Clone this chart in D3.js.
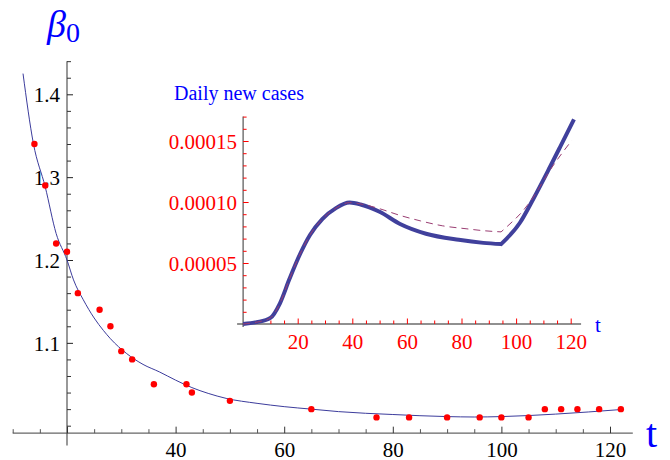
<!DOCTYPE html>
<html>
<head>
<meta charset="utf-8">
<script src="https://cdn.jsdelivr.net/npm/d3@7"></script>
<style>
  html, body { margin: 0; padding: 0; background: #fff; }
  svg { display: block; }
  text { font-family: "Liberation Serif", "Times New Roman", serif; }
</style>
</head>
<body>
<svg id="chart" width="670" height="460"></svg>
<script>
// ---- Main chart data: beta_0 estimates (red points) ----
const pointT = [14, 16, 18, 20, 22, 26, 28, 30, 32, 36, 42, 43, 50, 65, 77, 83, 90, 96, 100, 105, 108, 111, 114, 118, 122];
const pointV = [1.34, 1.29, 1.22, 1.21, 1.16, 1.14, 1.12, 1.09, 1.08, 1.05, 1.05, 1.04, 1.03, 1.02, 1.01, 1.01, 1.01, 1.01, 1.01, 1.01, 1.02, 1.02, 1.02, 1.02, 1.02];

// ---- Main chart fitted curve ----
const fitT = [11.9, 13.8, 16, 18, 20, 21.2, 23, 25, 26.7, 28, 31, 34, 37, 40, 43, 46, 49.3, 55, 60, 65, 70, 80, 90, 95, 100, 110, 122];
const fitV = [1.425, 1.341, 1.288, 1.232, 1.2, 1.176, 1.152, 1.13, 1.115, 1.105, 1.087, 1.074, 1.065, 1.055, 1.046, 1.039, 1.033, 1.027, 1.023, 1.020, 1.017, 1.0135, 1.011, 1.0105, 1.011, 1.014, 1.0195];

// ---- Main axes ticks ----
const mainXMajor = [20, 40, 60, 80, 100, 120];
const mainXLabels = ["", "40", "60", "80", "100", "120"];
const mainYMajor = [1.1, 1.2, 1.3, 1.4];
const mainYLabels = ["1.1", "1.2", "1.3", "1.4"];

// ---- Inset data: daily new cases (two pieces meeting at the kink t≈94.5) ----
const solidT1 = [0, 5, 10, 13.5, 17, 21, 24.5, 29, 34, 39, 43, 50, 57.5, 67, 79, 88, 94.5];
const solidV1 = [0, 0.0000015, 0.000005, 0.000017, 0.000037, 0.000058, 0.000073, 0.000086, 0.000095, 0.0000995, 0.000098, 0.000092, 0.000082, 0.000074, 0.000069, 0.0000665, 0.0000655];
const solidT2 = [94.5, 101.4, 106.3, 112.4, 116.1, 121.2];
const solidV2 = [0.0000655, 0.000083, 0.0001025, 0.0001287, 0.000145, 0.0001677];
const dashT1 = [0, 5, 10, 13.5, 17, 21, 24.5, 29, 34, 39, 45, 50, 57.5, 65, 73, 82, 88, 94.5];
const dashV1 = [0, 0.0000015, 0.000005, 0.000017, 0.000037, 0.000058, 0.000073, 0.000086, 0.000095, 0.0000995, 0.0000975, 0.0000945, 0.000089, 0.0000845, 0.0000805, 0.000078, 0.0000765, 0.0000755];
const dashT2 = [94.5, 97, 102.6, 106.3, 112.4, 120.4];
const dashV2 = [0.0000755, 0.0000805, 0.000093, 0.000104, 0.000126, 0.0001505];

const insetXMajor = [20, 40, 60, 80, 100, 120];
const insetYMajor = [0.00005, 0.00010, 0.00015];
const insetYLabels = ["0.00005", "0.00010", "0.00015"];

const svg = d3.select("#chart");
const FONT = "Liberation Serif, Times New Roman, serif";
const curveCol = "#3c3c9c";

// ================= MAIN CHART =================
const x = d3.scaleLinear().domain([20, 120]).range([67, 610]);
const y = d3.scaleLinear().domain([1.0, 1.4]).range([425.7, 94.3]);
const xOrigin = 20, yOrigin = 0.991;

const main = svg.append("g");
main.append("line").attr("x1", x(10)).attr("x2", x(124.2)).attr("y1", y(yOrigin)).attr("y2", y(yOrigin))
  .attr("stroke", "#666").attr("stroke-width", 1.3);
main.append("line").attr("x1", x(xOrigin)).attr("x2", x(xOrigin)).attr("y1", y(0.976)).attr("y2", y(1.44))
  .attr("stroke", "#444").attr("stroke-width", 1.1);

function styleAxis(g, col, fontSize, textCol) {
  g.select(".domain").remove();
  g.selectAll(".tick line").attr("stroke", col).attr("stroke-width", 1);
  g.selectAll(".tick text").attr("font-family", FONT).attr("font-size", fontSize).attr("fill", textCol);
}

const xMinor = d3.range(10, 121, 5).filter(v => v % 20 !== 0);
main.append("g").attr("transform", `translate(0,${y(yOrigin)})`)
  .call(d3.axisBottom(x).tickValues(xMinor).tickSize(-4).tickFormat(""))
  .call(g => styleAxis(g, "#555", 21, "#000"));
main.append("g").attr("transform", `translate(0,${y(yOrigin)})`)
  .call(d3.axisBottom(x).tickValues(mainXMajor).tickSize(-6.5).tickPadding(9)
    .tickFormat((d, i) => mainXLabels[i]))
  .call(g => styleAxis(g, "#333", 21, "#000"));

const yMinor = d3.range(0, 23).map(i => +(1.0 + i * 0.02).toFixed(2)).filter(v => Math.abs(v * 10 - Math.round(v * 10)) > 1e-6 || v === 1.0 || v > 1.41);
main.append("g").attr("transform", `translate(${x(xOrigin)},0)`)
  .call(d3.axisLeft(y).tickValues(yMinor).tickSize(-4).tickFormat(""))
  .call(g => styleAxis(g, "#333", 21, "#000"));
main.append("g").attr("transform", `translate(${x(xOrigin)},0)`)
  .call(d3.axisLeft(y).tickValues(mainYMajor).tickSize(-6).tickPadding(7)
    .tickFormat((d, i) => mainYLabels[i]))
  .call(g => styleAxis(g, "#222", 21, "#000"))
  .call(g => g.selectAll(".tick text").attr("dy", "0.35em"));

const fitData = fitT.map((t, i) => [t, fitV[i]]);
main.append("path").datum(fitData)
  .attr("fill", "none").attr("stroke", curveCol).attr("stroke-width", 1)
  .attr("d", d3.line().x(d => x(d[0])).y(d => y(d[1])).curve(d3.curveMonotoneX));

main.selectAll("circle.pt").data(pointT.map((t, i) => [t, pointV[i]])).join("circle")
  .attr("class", "pt").attr("cx", d => x(d[0])).attr("cy", d => y(d[1])).attr("r", 3.2).attr("fill", "#ff0000");

const beta = main.append("text").attr("x", 47).attr("y", 37).attr("fill", "#0000ff").attr("font-family", FONT);
beta.append("tspan").attr("font-style", "italic").attr("font-size", 38).text("β");
beta.append("tspan").attr("font-size", 28).attr("dy", 5).text("0");
main.append("text").attr("x", 646).attr("y", 447).attr("fill", "#0000ff").attr("font-family", FONT)
  .attr("font-size", 40).text("t");

// ================= INSET =================
const ix = d3.scaleLinear().domain([0, 120]).range([243.1, 570.7]);
const iy = d3.scaleLinear().domain([0, 0.00015]).range([324, 141]);
const inset = svg.append("g");

inset.append("line").attr("x1", ix(-2.2)).attr("x2", ix(123.8)).attr("y1", iy(0)).attr("y2", iy(0))
  .attr("stroke", "#222").attr("stroke-width", 1.2);
inset.append("line").attr("x1", ix(0)).attr("x2", ix(0)).attr("y1", iy(-0.0000025)).attr("y2", iy(0.00017))
  .attr("stroke", "#444").attr("stroke-width", 1.1);

const ixMinor = d3.range(5, 121, 5).filter(v => v % 20 !== 0);
inset.append("g").attr("transform", `translate(0,${iy(0)})`)
  .call(d3.axisBottom(ix).tickValues(ixMinor).tickSize(-3.5).tickFormat(""))
  .call(g => styleAxis(g, "#ff0000", 21, "#ff0000"));
inset.append("g").attr("transform", `translate(0,${iy(0)})`)
  .call(d3.axisBottom(ix).tickValues(insetXMajor).tickSize(-5.5).tickPadding(10).tickFormat(d3.format("d")))
  .call(g => styleAxis(g, "#ff0000", 21, "#ff0000"));

const iyMinor = d3.range(1, 18).filter(i => i % 5 !== 0).map(i => i * 0.00001);
inset.append("g").attr("transform", `translate(${ix(0)},0)`)
  .call(d3.axisLeft(iy).tickValues(iyMinor).tickSize(-3.5).tickFormat(""))
  .call(g => styleAxis(g, "#ff0000", 21, "#ff0000"));
inset.append("g").attr("transform", `translate(${ix(0)},0)`)
  .call(d3.axisLeft(iy).tickValues(insetYMajor).tickSize(-5.5).tickPadding(6)
    .tickFormat((d, i) => insetYLabels[i]))
  .call(g => styleAxis(g, "#ff0000", 21, "#ff0000"))
  .call(g => g.selectAll(".tick text").attr("dy", "0.35em"));

const iline = d3.line().x(d => ix(d[0])).y(d => iy(d[1])).curve(d3.curveMonotoneX);
const pairs = (ts, vs) => ts.map((t, i) => [t, vs[i]]);
const solidPath = iline(pairs(solidT1, solidV1)) + "L" + iline(pairs(solidT2, solidV2)).slice(1);
inset.append("path").attr("d", solidPath)
  .attr("fill", "none").attr("stroke", "#40409c").attr("stroke-width", 4)
  .attr("stroke-linejoin", "miter");
const dashPath = iline(pairs(dashT1, dashV1)) + "L" + iline(pairs(dashT2, dashV2)).slice(1);
inset.append("path").attr("d", dashPath)
  .attr("fill", "none").attr("stroke", "#9a3d72").attr("stroke-width", 1)
  .attr("stroke-dasharray", "7,5");

inset.append("text").attr("x", 174).attr("y", 100).attr("fill", "#0000ff").attr("font-family", FONT)
  .attr("font-size", 20).text("Daily new cases");
inset.append("text").attr("x", 595).attr("y", 332).attr("fill", "#0000ff").attr("font-family", FONT)
  .attr("font-size", 21).text("t");
</script>
</body>
</html>
